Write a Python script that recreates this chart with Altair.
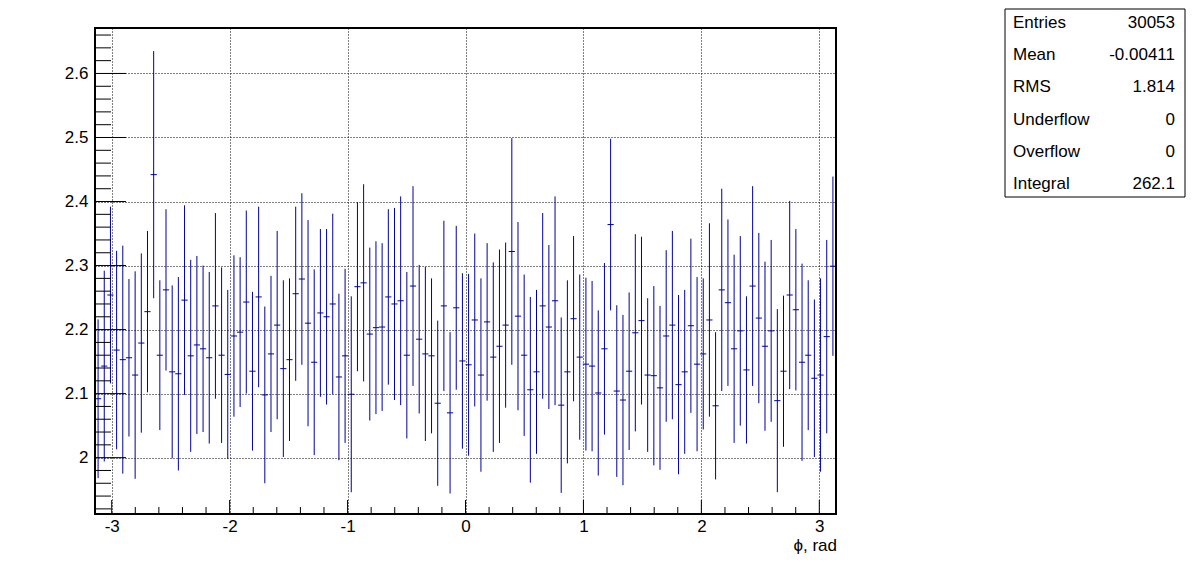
import numpy as np
import pandas as pd
import altair as alt

# ---------------- data ----------------
n_bins = 120
x_min, x_max = -np.pi, np.pi

values = [
    2.092, 2.143, 2.254, 2.168, 2.153, 2.156, 2.129, 2.179, 2.228, 2.442,
    2.160, 2.262, 2.134, 2.131, 2.246, 2.159, 2.176, 2.170, 2.156, 2.237,
    2.160, 2.130, 2.190, 2.196, 2.243, 2.135, 2.251, 2.098, 2.162, 2.207,
    2.139, 2.153, 2.256, 2.279, 2.210, 2.149, 2.226, 2.220, 2.240, 2.126,
    2.159, 2.099, 2.267, 2.273, 2.193, 2.203, 2.204, 2.251, 2.240, 2.245,
    2.160, 2.268, 2.185, 2.162, 2.159, 2.085, 2.237, 2.070, 2.234, 2.151,
    2.145, 2.215, 2.129, 2.212, 2.157, 2.174, 2.207, 2.322, 2.221, 2.160,
    2.106, 2.134, 2.237, 2.204, 2.245, 2.082, 2.134, 2.217, 2.157, 2.146,
    2.143, 2.101, 2.170, 2.364, 2.104, 2.090, 2.135, 2.195, 2.214, 2.129,
    2.128, 2.109, 2.190, 2.207, 2.114, 2.134, 2.206, 2.146, 2.162, 2.215,
    2.081, 2.262, 2.242, 2.170, 2.198, 2.137, 2.268, 2.218, 2.174, 2.198,
    2.089, 2.135, 2.254, 2.231, 2.149, 2.160, 2.124, 2.129, 2.189, 2.299,
]

errors = [
    0.124, 0.149, 0.138, 0.155, 0.178, 0.123, 0.162, 0.140, 0.126, 0.193,
    0.117, 0.126, 0.135, 0.151, 0.148, 0.150, 0.139, 0.130, 0.134, 0.145,
    0.137, 0.132, 0.126, 0.117, 0.143, 0.124, 0.141, 0.138, 0.122, 0.147,
    0.138, 0.127, 0.136, 0.134, 0.161, 0.145, 0.131, 0.137, 0.141, 0.130,
    0.136, 0.153, 0.132, 0.154, 0.135, 0.135, 0.131, 0.137, 0.150, 0.163,
    0.130, 0.156, 0.116, 0.136, 0.121, 0.129, 0.133, 0.126, 0.128, 0.137,
    0.142, 0.135, 0.151, 0.123, 0.148, 0.151, 0.129, 0.177, 0.147, 0.126,
    0.145, 0.128, 0.145, 0.128, 0.163, 0.137, 0.143, 0.129, 0.129, 0.135,
    0.133, 0.129, 0.134, 0.134, 0.134, 0.133, 0.123, 0.154, 0.131, 0.120,
    0.140, 0.128, 0.134, 0.147, 0.140, 0.128, 0.136, 0.136, 0.118, 0.151,
    0.115, 0.158, 0.130, 0.147, 0.148, 0.115, 0.156, 0.133, 0.132, 0.142,
    0.143, 0.118, 0.147, 0.126, 0.154, 0.117, 0.123, 0.151, 0.151, 0.140,
]

x_major = [-3, -2, -1, 0, 1, 2, 3]
x_minor = [-2.8, -2.6, -2.4, -2.2, -1.8, -1.6, -1.4, -1.2, -0.8, -0.6, -0.4, -0.2,
           0.2, 0.4, 0.6, 0.8, 1.2, 1.4, 1.6, 1.8, 2.2, 2.4, 2.6, 2.8]
y_major = [2.0, 2.1, 2.2, 2.3, 2.4, 2.5, 2.6]
y_minor = [1.92, 1.94, 1.96, 1.98, 2.02, 2.04, 2.06, 2.08, 2.12, 2.14, 2.16, 2.18,
           2.22, 2.24, 2.26, 2.28, 2.32, 2.34, 2.36, 2.38, 2.42, 2.44, 2.46, 2.48,
           2.52, 2.54, 2.56, 2.58, 2.62, 2.64, 2.66]
y_range = [1.912, 2.671]

x_title = "ϕ, rad"
stat_labels = ["Entries", "Mean", "RMS", "Underflow", "Overflow", "Integral"]
stat_values = ["30053", "-0.00411", "1.814", "0", "0", "262.1"]

# ---------------- build ----------------
edges = np.linspace(x_min, x_max, n_bins + 1)
df = pd.DataFrame({
    "lo": edges[:-1],
    "hi": edges[1:],
    "phi": (edges[:-1] + edges[1:]) / 2,
    "val": values,
    "err": errors,
})
df["ylo"] = df["val"] - df["err"]
df["yhi"] = df["val"] + df["err"]

W, H = 741, 486
FONT = "Liberation Sans"
FS = 17
BLUE = "#000099"

xs = alt.Scale(domain=[x_min, x_max], nice=False, zero=False)
ys = alt.Scale(domain=y_range, nice=False, zero=False)

xaxis = alt.Axis(values=x_major, ticks=False, tickSize=0, domain=False, grid=True,
                 gridColor="black", gridDash=[1, 2], gridWidth=1, gridOpacity=1,
                 labelFont=FONT, labelFontSize=FS, labelColor="black", labelPadding=4,
                 labelExpr="toString(datum.value)", title=None)
yaxis = alt.Axis(values=y_major, ticks=False, tickSize=0, domain=False, grid=True,
                 gridColor="black", gridDash=[1, 2], gridWidth=1, gridOpacity=1,
                 labelFont=FONT, labelFontSize=FS, labelColor="black", labelPadding=7,
                 labelExpr="toString(datum.value)", title=None)

base = alt.Chart(df)
errbars = base.mark_rule(color=BLUE, strokeWidth=1, clip=True).encode(
    x=alt.X("phi:Q", scale=xs, axis=xaxis),
    y=alt.Y("ylo:Q", scale=ys, axis=yaxis),
    y2="yhi:Q",
)
centers = base.mark_rule(color=BLUE, strokeWidth=1, clip=True).encode(
    x=alt.X("lo:Q", scale=xs, axis=xaxis),
    x2="hi:Q",
    y=alt.Y("val:Q", scale=ys, axis=yaxis),
)

def xticks(vals, length):
    return alt.Chart(pd.DataFrame({"v": vals})).mark_rule(color="black", strokeWidth=1).encode(
        x=alt.X("v:Q", scale=xs, axis=xaxis),
        y=alt.value(H),
        y2=alt.value(H - length),
    )

def yticks(vals, length):
    return alt.Chart(pd.DataFrame({"v": vals})).mark_rule(color="black", strokeWidth=1).encode(
        y=alt.Y("v:Q", scale=ys, axis=yaxis),
        x=alt.value(0),
        x2=alt.value(length),
    )

one = pd.DataFrame({"a": [0]})
layers = [errbars, centers,
          xticks(x_major, 14), xticks(x_minor, 7),
          yticks(y_major, 31), yticks(y_minor, 16)]

title = alt.Chart(one).mark_text(align="right", baseline="alphabetic", font=FONT,
                                 fontSize=FS, color="black").encode(
    x=alt.value(W + 1), y=alt.value(H + 37), text=alt.value(x_title))
layers.append(title)

box = alt.Chart(one).mark_rect(fill="white", stroke="black", strokeWidth=1).encode(
    x=alt.value(910), x2=alt.value(1090), y=alt.value(-19), y2=alt.value(169))
layers.append(box)

for i, (lab, val) in enumerate(zip(stat_labels, stat_values)):
    yy = 0 + i * 32.2
    layers.append(alt.Chart(one).mark_text(align="left", baseline="alphabetic", font=FONT,
                                           fontSize=FS, color="black").encode(
        x=alt.value(918), y=alt.value(yy), text=alt.value(lab)))
    layers.append(alt.Chart(one).mark_text(align="right", baseline="alphabetic", font=FONT,
                                           fontSize=FS, color="black").encode(
        x=alt.value(1080), y=alt.value(yy), text=alt.value(val)))

chart = alt.layer(*layers).properties(
    width=W, height=H,
    autosize=alt.AutoSizeParams(type="none"),
    padding={"left": 87, "top": 20, "right": 352, "bottom": 50},
    background="white",
).configure_view(stroke="black", strokeWidth=2)

chart.save("out.html", embed_options={"renderer": "svg", "actions": False})
